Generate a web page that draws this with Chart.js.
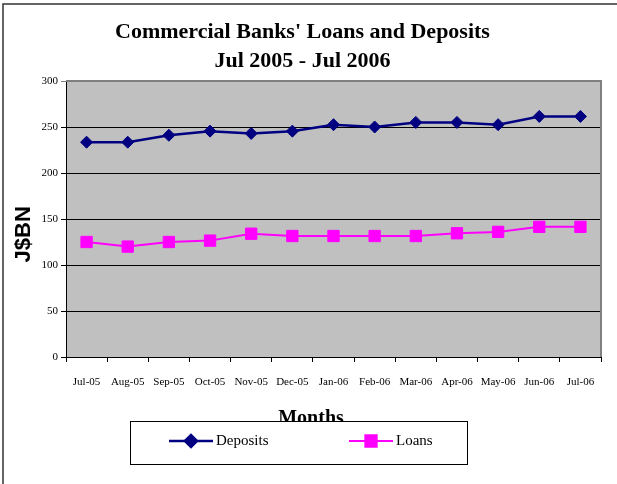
<!DOCTYPE html>
<html>
<head>
<meta charset="utf-8">
<script src="https://cdn.jsdelivr.net/npm/chart.js@4.4.0/dist/chart.umd.min.js"></script>
<style>
html, body { margin: 0; padding: 0; background: #fff; }
canvas { display: block; }
</style>
</head>
<body>
<canvas id="bankChart" width="617" height="484"></canvas>
<script>
// values (J$BN)
var months = ['Jul-05', 'Aug-05', 'Sep-05', 'Oct-05', 'Nov-05', 'Dec-05', 'Jan-06',
	'Feb-06', 'Mar-06', 'Apr-06', 'May-06', 'Jun-06', 'Jul-06'];
var deposits = [233.5, 233.5, 241, 245.5, 243, 245.5, 252.5, 250, 255, 255, 252.5, 261.5, 261.5];
var loans = [125, 120, 125, 126.5, 134, 131.5, 131.5, 131.5, 131.5, 134.5, 136, 141.5, 141.5];
var yTicks = [0, 50, 100, 150, 200, 250, 300];

var serif = '"Liberation Serif", "Times New Roman", serif';

// grey plot area, grey frame on top/right, outer page frame
var plotBack = {
	id: 'plotBack',
	beforeDraw: function(chart){
		var ctx = chart.ctx, a = chart.chartArea;
		ctx.save();
		ctx.fillStyle = '#C0C0C0';
		ctx.fillRect(a.left, a.top, a.right - a.left, a.bottom - a.top);
		ctx.strokeStyle = '#333';
		ctx.lineWidth = 1.5;
		ctx.beginPath();
		ctx.moveTo(3, 490);
		ctx.lineTo(3, 4);
		ctx.lineTo(620, 4);
		ctx.stroke();
		ctx.restore();
	},
	beforeDatasetsDraw: function(chart){
		var ctx = chart.ctx, a = chart.chartArea;
		ctx.save();
		ctx.strokeStyle = '#808080';
		ctx.lineWidth = 2;
		ctx.beginPath();
		ctx.moveTo(a.left, a.top);
		ctx.lineTo(a.right, a.top);
		ctx.lineTo(a.right, a.bottom);
		ctx.stroke();
		ctx.restore();
	}
};

// boxed legend drawn with line + marker, over the lower part of the x title
var legendBox = {
	id: 'legendBox',
	afterDraw: function(chart){
		var ctx = chart.ctx;
		ctx.save();
		ctx.fillStyle = '#fff';
		ctx.fillRect(130, 421, 337, 43);
		ctx.strokeStyle = '#000';
		ctx.lineWidth = 1;
		ctx.strokeRect(130.5, 421.5, 337, 43);
		var starts = [169, 349];
		chart.data.datasets.forEach(function(ds, i){
			var x0 = starts[i], y = 441;
			ctx.strokeStyle = ds.borderColor;
			ctx.lineWidth = ds.borderWidth;
			ctx.beginPath();
			ctx.moveTo(x0, y);
			ctx.lineTo(x0 + 44, y);
			ctx.stroke();
			ctx.fillStyle = ds.pointBackgroundColor;
			ctx.strokeStyle = ds.pointBorderColor;
			Chart.helpers.drawPoint(ctx, {
				pointStyle: ds.pointStyle,
				radius: ds.pointRadius,
				borderWidth: 1,
				rotation: 0
			}, x0 + 22, y);
			ctx.fillStyle = '#000';
			ctx.font = '15px ' + serif;
			ctx.textAlign = 'left';
			ctx.textBaseline = 'middle';
			ctx.fillText(ds.label, x0 + 47, y);
		});
		ctx.restore();
	}
};

var config = {};
config.type = 'line';
config.data = {};
config.data.labels = months;
config.data.datasets = [];
config.data.datasets[0] = {
	label: 'Deposits',
	data: deposits,
	borderColor: '#000080',
	backgroundColor: '#000080',
	pointBackgroundColor: '#000080',
	pointBorderColor: '#000080',
	borderWidth: 2.5,
	pointStyle: 'rectRot',
	pointRadius: 6,
	pointHoverRadius: 6,
	pointBorderWidth: 1,
	tension: 0
};
config.data.datasets[1] = {
	label: 'Loans',
	data: loans,
	borderColor: '#FF00FF',
	backgroundColor: '#FF00FF',
	pointBackgroundColor: '#FF00FF',
	pointBorderColor: '#FF00FF',
	borderWidth: 2,
	pointStyle: 'rect',
	pointRadius: 8,
	pointHoverRadius: 8,
	pointBorderWidth: 1,
	tension: 0
};
config.options = {
	responsive: false,
	animation: false,
	devicePixelRatio: 1,
	layout: {
		padding: { left: 4, right: 16, top: 0, bottom: 53 }
	},
	plugins: {
		legend: { display: false },
		tooltip: { enabled: false },
		title: {
			display: true,
			text: ["Commercial Banks' Loans and Deposits", 'Jul 2005 - Jul 2006'],
			color: '#000',
			font: { family: serif, size: 22, weight: 'bold', lineHeight: '29px' },
			padding: { top: 18, bottom: 5 }
		}
	},
	scales: {
		x: {
			offset: true,
			afterFit: function(scale){ scale.height = 74; },
			grid: {
				display: true,
				drawOnChartArea: false,
				drawTicks: true,
				offset: true,
				tickLength: 5,
				color: '#000'
			},
			border: { display: true, color: '#000', width: 1 },
			ticks: {
				color: '#000',
				padding: 14,
				maxRotation: 0,
				autoSkip: false,
				font: { family: serif, size: 11 }
			},
			title: {
				display: true,
				text: 'Months\u00a0\u00a0\u00a0\u00a0\u00a0\u00a0\u00a0\u00a0\u00a0',
				color: '#000',
				font: { family: serif, size: 20, weight: 'bold' },
				padding: { top: 0, bottom: 0 }
			}
		},
		y: {
			min: yTicks[0],
			max: yTicks[yTicks.length - 1],
			afterFit: function(scale){ scale.width = 62; },
			grid: {
				color: function(c){ return c.tick && c.tick.value === yTicks[yTicks.length - 1] ? '#808080' : '#000'; },
				lineWidth: 1,
				tickLength: 5,
				drawTicks: true
			},
			border: { display: true, color: '#000', width: 1 },
			ticks: {
				stepSize: yTicks[1] - yTicks[0],
				color: '#000',
				padding: 3,
				font: { family: serif, size: 11 }
			},
			title: {
				display: true,
				text: 'J$BN\u00a0\u00a0\u00a0\u00a0\u00a0',
				color: '#000',
				font: { family: '"Liberation Sans", Arial, sans-serif', size: 22, weight: 'bold' },
				padding: { top: 7, bottom: 0 }
			}
		}
	}
};
config.plugins = [plotBack, legendBox];

window.bankChart = new Chart(document.getElementById('bankChart'), config);
</script>
</body>
</html>
